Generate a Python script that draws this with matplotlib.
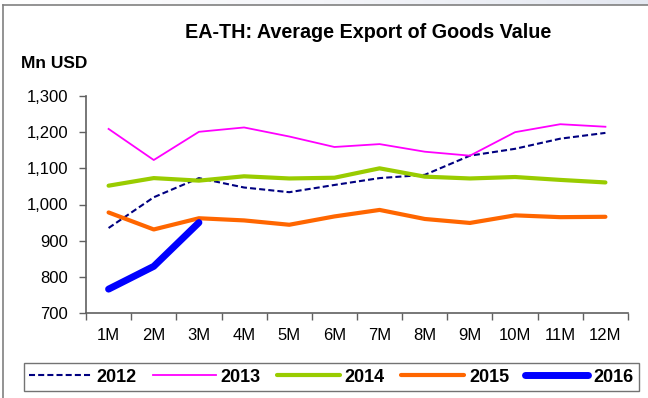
import matplotlib
matplotlib.use("Agg")
import matplotlib.pyplot as plt
from matplotlib.lines import Line2D
import numpy as np

plt.rcParams['font.family'] = ['Liberation Sans', 'DejaVu Sans']

months = ["1M", "2M", "3M", "4M", "5M", "6M", "7M", "8M", "9M", "10M", "11M", "12M"]
y2012 = [935, 1020, 1073, 1047, 1034, 1054, 1073, 1082, 1135, 1154, 1182, 1198]
y2013 = [1209, 1123, 1201, 1213, 1188, 1159, 1167, 1146, 1135, 1200, 1222, 1215]
y2014 = [1052, 1073, 1066, 1078, 1072, 1074, 1100, 1077, 1072, 1076, 1068, 1061]
y2015 = [978, 931, 962, 956, 944, 967, 985, 960, 949, 970, 965, 966]
y2016 = [766, 829, 950]
yticks = [700, 800, 900, 1000, 1100, 1200, 1300]

W, H = 648, 398
fig = plt.figure(figsize=(W / 100, H / 100), dpi=100)

# slide background strip and chart frame
grad = fig.add_axes([0, 1 - 5 / H, 1, 5 / H])
grad.imshow(np.linspace(0, 1, 256)[None, :], aspect='auto',
            cmap=matplotlib.colors.LinearSegmentedColormap.from_list(
                'bg', ['#ffffff', '#f4f5f9', '#e4e8f1']), extent=(0, 1, 0, 1))
grad.axis('off')
fig.add_artist(Line2D([3 / W, 1], [1 - 5 / H, 1 - 5 / H], color='#808080', lw=1.2))
fig.add_artist(Line2D([3 / W, 3 / W], [0, 1 - 5 / H], color='#808080', lw=1.2))

ax = fig.add_axes([86 / W, 1 - 313 / H, (628 - 86) / W, (313 - 96) / H])
x = np.arange(len(months))

ax.plot(x, y2012, color='#000080', lw=1.5, dashes=(2.9, 1.5), label='2012')
ax.plot(x, y2013, color='#FF00FF', lw=1.3, label='2013')
ax.plot(x, y2014, color='#99CC00', lw=3.0, label='2014', solid_capstyle='round')
ax.plot(x, y2015, color='#FF6600', lw=3.0, label='2015', solid_capstyle='round')
ax.plot(x[:len(y2016)], y2016, color='#0000FF', lw=5.0, label='2016', solid_capstyle='round')

ax.set_xlim(-0.5, len(months) - 0.5)
ax.set_ylim(700, 1300)
ax.set_yticks(yticks)
ax.set_yticklabels([f"{v:,}" for v in yticks], fontsize=12)
ax.set_xticks(x)
ax.set_xticklabels(months, fontsize=12)
ax.set_xticks(np.arange(-0.5, len(months)), minor=True)
ax.tick_params(axis='x', which='major', length=0, pad=11)
ax.tick_params(axis='x', which='minor', length=5, width=1, color='#606060', direction='out')
ax.tick_params(axis='y', length=5, width=1, color='#606060', direction='out', pad=8)
for s in ['top', 'right']:
    ax.spines[s].set_visible(False)
for s in ['left', 'bottom']:
    ax.spines[s].set_color('#606060')
    ax.spines[s].set_linewidth(1.2)

fig.text(368 / W, 1 - 38 / H, "EA-TH: Average Export of Goods Value", ha='center', va='baseline',
         fontsize=14.2, fontweight='bold')
fig.text(21 / W, 1 - 63 / H, "Mn USD", ha='left', va='center', fontsize=12.5, fontweight='bold')

leg = fig.legend(loc='center', bbox_to_anchor=(331 / W, 1 - 377 / H), ncol=5, frameon=True,
                 prop={'weight': 'bold', 'size': 13}, handlelength=3.5, handletextpad=0.25,
                 columnspacing=0.9, borderpad=0.3, borderaxespad=0, fancybox=False,
                 edgecolor='#505050')
leg.get_frame().set_linewidth(1.0)

fig.savefig("out.png", dpi=100)
